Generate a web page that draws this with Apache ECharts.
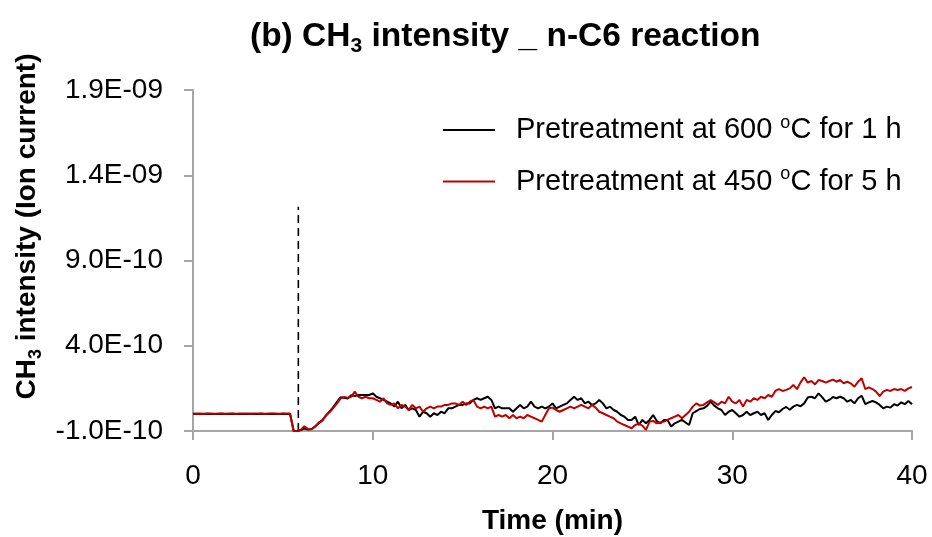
<!DOCTYPE html>
<html>
<head>
<meta charset="utf-8">
<script src="https://cdn.jsdelivr.net/npm/echarts@6/dist/echarts.min.js"></script>
<style>
  html, body { margin: 0; padding: 0; background: #ffffff; }
  #chart { width: 932px; height: 537px; }
</style>
</head>
<body>
<div id="chart"></div>
<script>
// Time (min)
const time = [
  0, 0.2, 0.4, 0.6, 0.8, 1, 1.2, 1.4, 1.6, 1.8, 2, 2.2, 2.4, 2.6, 2.8, 3, 3.2, 3.4, 3.6, 3.8,
  4, 4.2, 4.4, 4.6, 4.8, 5, 5.2, 5.4, 5.6, 5.8, 6, 6.2, 6.4, 6.6, 6.8, 7, 7.2, 7.4, 7.6, 7.8,
  8, 8.2, 8.4, 8.6, 8.8, 9, 9.2, 9.4, 9.6, 9.8, 10, 10.2, 10.4, 10.6, 10.8, 11, 11.2, 11.4, 11.6, 11.8,
  12, 12.2, 12.4, 12.6, 12.8, 13, 13.2, 13.4, 13.6, 13.8, 14, 14.2, 14.4, 14.6, 14.8, 15, 15.2, 15.4, 15.6, 15.8,
  16, 16.2, 16.4, 16.6, 16.8, 17, 17.2, 17.4, 17.6, 17.8, 18, 18.2, 18.4, 18.6, 18.8, 19, 19.2, 19.4, 19.6, 19.8,
  20, 20.2, 20.4, 20.6, 20.8, 21, 21.2, 21.4, 21.6, 21.8, 22, 22.2, 22.4, 22.6, 22.8, 23, 23.2, 23.4, 23.6, 23.8,
  24, 24.2, 24.4, 24.6, 24.8, 25, 25.2, 25.4, 25.6, 25.8, 26, 26.2, 26.4, 26.6, 26.8, 27, 27.2, 27.4, 27.6, 27.8,
  28, 28.2, 28.4, 28.6, 28.8, 29, 29.2, 29.4, 29.6, 29.8, 30, 30.2, 30.4, 30.6, 30.8, 31, 31.2, 31.4, 31.6, 31.8,
  32, 32.2, 32.4, 32.6, 32.8, 33, 33.2, 33.4, 33.6, 33.8, 34, 34.2, 34.4, 34.6, 34.8, 35, 35.2, 35.4, 35.6, 35.8,
  36, 36.2, 36.4, 36.6, 36.8, 37, 37.2, 37.4, 37.6, 37.8, 38, 38.2, 38.4, 38.6, 38.8, 39, 39.2, 39.4, 39.6, 39.8,
  40
];

// CH3 intensity, in units of 1E-10 (ion current)
// Pretreatment at 600 °C for 1 h (black)
const pre600 = [
  0.0, 0.01, 0.0, 0.0, 0.01, 0.0, -0.01, 0.0, 0.01, 0.0, 0.0, 0.01, 0.0, 0.0, -0.01, 0.0, 0.01, 0.0, 0.0, 0.01,
  0.0, 0.0, 0.01, 0.0, 0.0, 0.01, 0.0, 0.0,
  -1.0, -1.0, -0.95, -0.85, -0.92, -0.88, -0.72, -0.55, -0.35, -0.1, 0.15, 0.4, 0.7, 0.98, 0.95, 0.9, 1.1, 1.05,
  1.11, 1.11, 1.11, 1.11, 1.21, 1.01, 0.92, 0.82, 0.72, 0.62, 0.43, 0.72,
  0.33, 0.53, 0.23, 0.33, 0.23, -0.16, 0.13, 0.04, -0.16, 0.04, -0.06, 0.13, 0.04, 0.33, 0.33, 0.43, 0.53, 0.53, 0.62, 0.62,
  0.82, 0.92, 0.82, 0.92, 1.01, 0.82, 0.33, 0.43, 0.33, 0.33, 0.33, 0.13,
  0.33, 0.53, 0.33, 0.43, 0.72, 0.43, 0.33, 0.43, 0.33, 0.43, 0.62, 0.33, 0.43, 0.53, 0.62, 0.82, 1.01, 0.82, 0.92, 0.62,
  0.72, 0.53, 0.62, 0.82, 0.62, 0.33, 0.43, 0.23, 0.13, -0.06, -0.16, -0.35,
  -0.35, -0.16, -0.65, -0.35, -0.55, -0.35, -0.06, -0.41, -0.55, -0.35, -0.35, -0.74, -0.55, -0.45, -0.35, -0.5, -0.65, 0.04, 0.17, 0.29,
  0.33, 0.47, 0.72, 0.49, 0.33, 0.23, -0.06, 0.13, 0.23, 0.04, -0.16,
  -0.06, 0.13, -0.06, 0.04, 0.13, -0.06, 0.04, -0.35, -0.06, 0.17, 0.1, 0.29, 0.41, 0.25, 0.43, 0.53, 0.45, 0.62, 0.96, 1.01,
  0.92, 1.21, 0.99, 0.72, 0.82,
  0.99, 0.92, 1.01, 0.92, 0.72, 0.82, 0.62, 0.92, 1.07, 0.57, 0.68, 0.76, 0.68, 0.53, 0.33, 0.43, 0.37, 0.57, 0.49, 0.68,
  0.57, 0.76, 0.57
];

// Pretreatment at 450 °C for 5 h (red)
const pre450 = [
  0.02, 0.01, 0.02, 0.01, 0.02, 0.02, 0.01, 0.02, 0.03, 0.01, 0.02, 0.02, 0.01, 0.03, 0.02, 0.02, 0.01, 0.02, 0.03, 0.02,
  0.01, 0.02, 0.02, 0.03, 0.01, 0.02, 0.02, 0.02,
  -1.0, -1.0, -0.92, -0.72, -0.88, -0.9, -0.75, -0.5, -0.4, -0.08, 0.1, 0.35, 0.6, 0.9, 1.0, 0.95, 1.0, 1.31,
  1.01, 0.92, 1.01, 0.92, 0.92, 0.82, 0.72, 0.92, 0.62, 0.53, 0.62, 0.33,
  0.53, 0.43, 0.23, 0.53, 0.33, 0.43, 0.13, 0.33, 0.43, 0.33, 0.43, 0.43, 0.53, 0.53, 0.62, 0.62, 0.53, 0.72, 0.53, 0.72,
  0.82, 0.43, 0.33, 0.43, 0.33, 0.43, -0.16, -0.06, -0.16, -0.06, -0.25, -0.06,
  -0.25, -0.16, -0.25, -0.06, -0.16, -0.25, -0.35, -0.45, -0.06, 0.33, 0.37, 0.23, 0.13, 0.23, 0.33, 0.43, 0.33, 0.43, 0.53, 0.43,
  0.33, 0.53, 0.37, 0.13, 0.04, -0.06, -0.16, -0.25, -0.45, -0.55, -0.65, -0.74,
  -0.84, -0.65, -0.55, -0.69, -0.94, -0.45, -0.41, -0.55, -0.5, -0.45, -0.35, -0.25, -0.16, -0.06, -0.25, -0.06, 0.13, 0.43, 0.62, 0.49,
  0.53, 0.68, 0.82, 0.68, 0.53, 0.72, 0.62, 1.01, 0.72, 0.62, 0.82,
  0.43, 0.82, 0.72, 0.92, 0.82, 1.01, 0.92, 1.11, 1.01, 1.35, 1.46, 1.35, 1.41, 1.5, 1.7, 1.45, 1.85, 2.15, 1.84, 1.93,
  1.74, 1.99, 1.93, 1.84, 1.93,
  2.01, 1.89, 1.99, 1.80, 1.89, 1.78, 1.6, 1.89, 2.09, 1.46, 1.56, 1.46, 1.31, 1.05, 1.31, 1.41, 1.35, 1.46, 1.41, 1.46,
  1.35, 1.5, 1.58
];

// Dashed marker (reaction start), in the same units
const markerTime = [5.86, 5.86];
const markerValue = [-1.0, 12.15];

const seriesNames = ['Pretreatment at 600 °C for 1 h', 'Pretreatment at 450 °C for 5 h'];
const yTickLabels = ['-1.0E-10', '4.0E-10', '9.0E-10', '1.4E-09', '1.9E-09'];
const xTickLabels = ['0', '10', '20', '30', '40'];

const FONT = '"Liberation Sans", Arial, sans-serif';
const AXIS_GRAY = '#a6a6a6';

function pairs(xs, ys) { return xs.map((x, i) => [x, ys[i]]); }

const chart = echarts.init(document.getElementById('chart'), null, { renderer: 'canvas' });

chart.setOption({
  backgroundColor: '#ffffff',
  animation: false,
  textStyle: { fontFamily: FONT },
  title: {
    text: '{b|(b) CH}{sub|3}{b| intensity _ n-C6 reaction}',
    left: 245,
    top: 12,
    textStyle: {
      rich: {
        b: { fontFamily: FONT, fontSize: 33.5, fontWeight: 'bold', color: '#000', lineHeight: 40 },
        sub: { fontFamily: FONT, fontSize: 21, fontWeight: 'bold', color: '#000', lineHeight: 22, verticalAlign: 'bottom' }
      }
    }
  },
  grid: { left: 193, right: 20, top: 90, bottom: 106, containLabel: false, outerBoundsMode: 'none' },
  legend: {
    data: seriesNames,
    orient: 'vertical',
    left: 438,
    top: 108,
    icon: 'rect',
    itemWidth: 52,
    itemHeight: 2,
    itemGap: 20,
    formatter: function (name) {
      const parts = name.split('°C');
      return '{t|' + parts[0] + '}{sup|o}{t|C' + parts[1] + '}';
    },
    textStyle: {
      padding: [0, 0, 0, 16],
      rich: {
        t: { fontFamily: FONT, fontSize: 29, color: '#000', lineHeight: 34 },
        sup: { fontFamily: FONT, fontSize: 18, color: '#000', lineHeight: 34, verticalAlign: 'top', padding: [1, 0, 0, 0] }
      }
    }
  },
  xAxis: {
    type: 'value',
    min: 0,
    max: 40,
    interval: 10,
    name: 'Time (min)',
    nameLocation: 'middle',
    nameGap: 76,
    nameTextStyle: { fontFamily: FONT, fontSize: 28, fontWeight: 'bold', color: '#000' },
    axisLine: { show: true, onZero: false, lineStyle: { color: AXIS_GRAY, width: 2 } },
    axisTick: { show: true, inside: false, length: 9, lineStyle: { color: AXIS_GRAY, width: 2 } },
    axisLabel: {
      margin: 31,
      fontFamily: FONT,
      fontSize: 28,
      color: '#000',
      formatter: function (v) { return xTickLabels[Math.round(v / 10)]; }
    },
    splitLine: { show: false }
  },
  yAxis: {
    type: 'value',
    min: -1,
    max: 19,
    interval: 5,
    name: '{b|CH}{sub|3}{b| intensity (Ion current)}',
    nameLocation: 'middle',
    nameRotate: 90,
    nameGap: 144,
    nameTextStyle: {
      padding: [0, 0, 0, 68],
      rich: {
        b: { fontFamily: FONT, fontSize: 28, fontWeight: 'bold', color: '#000', lineHeight: 34 },
        sub: { fontFamily: FONT, fontSize: 18, fontWeight: 'bold', color: '#000', lineHeight: 19, verticalAlign: 'bottom' }
      }
    },
    axisLine: { show: true, lineStyle: { color: AXIS_GRAY, width: 2 } },
    axisTick: { show: true, inside: false, length: 9, lineStyle: { color: AXIS_GRAY, width: 2 } },
    axisLabel: {
      margin: 30,
      fontFamily: FONT,
      fontSize: 28,
      color: '#000',
      formatter: function (v) { return yTickLabels[Math.round((v + 1) / 5)]; }
    },
    splitLine: { show: false }
  },
  series: [
    {
      name: 'reaction start',
      type: 'line',
      data: pairs(markerTime, markerValue),
      symbol: 'none',
      silent: true,
      lineStyle: { color: '#000', width: 1.6, type: [8, 5] },
      z: 1
    },
    {
      name: seriesNames[0],
      type: 'line',
      data: pairs(time, pre600),
      symbol: 'none',
      showSymbol: false,
      lineStyle: { color: '#000000', width: 2 },
      itemStyle: { color: '#000000' },
      z: 2
    },
    {
      name: seriesNames[1],
      type: 'line',
      data: pairs(time, pre450),
      symbol: 'none',
      showSymbol: false,
      lineStyle: { color: '#c00000', width: 2 },
      itemStyle: { color: '#c00000' },
      z: 3
    }
  ]
});
</script>
</body>
</html>
